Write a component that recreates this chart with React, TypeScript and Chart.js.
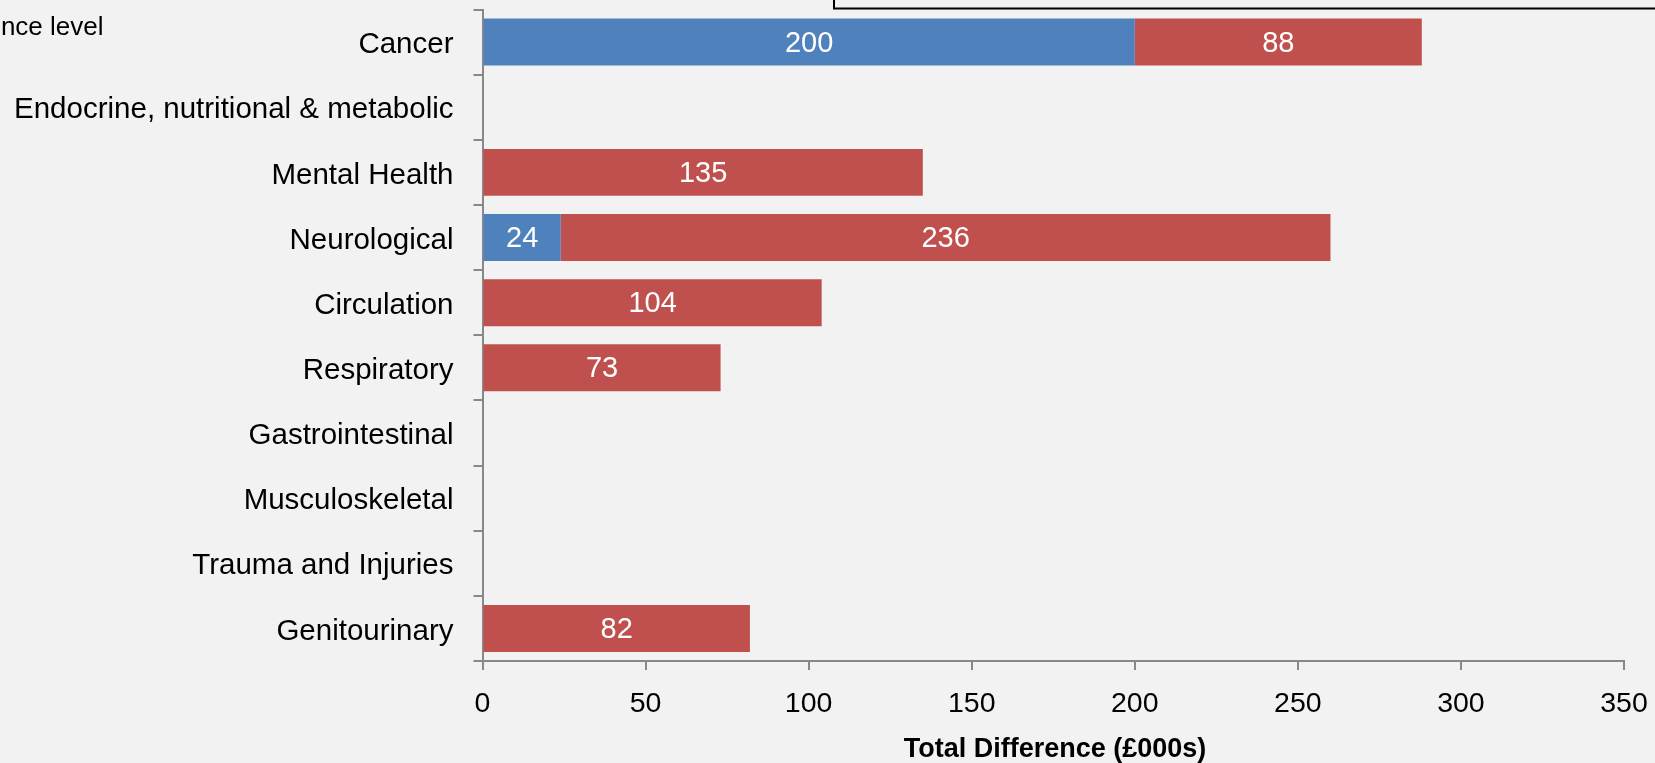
import React, { useEffect, useRef } from "react";
import { Chart, registerables } from "chart.js";

Chart.register(...registerables);

const categories = [
  "Cancer",
  "Endocrine, nutritional & metabolic",
  "Mental Health",
  "Neurological",
  "Circulation",
  "Respiratory",
  "Gastrointestinal",
  "Musculoskeletal",
  "Trauma and Injuries",
  "Genitourinary",
];
const blueValues: (number | null)[] = [200, null, null, 24, null, null, null, null, null, null];
const redValues: (number | null)[] = [88, null, 135, 236, 104, 73, null, null, null, 82];
const xTicks = [0, 50, 100, 150, 200, 250, 300, 350];
const axisTitle = "Total Difference (£000s)";
const cornerText = "ence level";

const FONT = "'Liberation Sans', Arial, sans-serif";
const AXIS_GRAY = "#888888";

const labelPlugin = {
  id: "barLabels",
  afterDatasetsDraw(chart: any) {
    const ctx = chart.ctx;
    ctx.save();
    ctx.font = `29px ${FONT}`;
    ctx.fillStyle = "#ffffff";
    ctx.textAlign = "center";
    ctx.textBaseline = "middle";
    chart.data.datasets.forEach((ds: any, di: number) => {
      const meta = chart.getDatasetMeta(di);
      meta.data.forEach((bar: any, i: number) => {
        const v = ds.data[i];
        if (v == null || v <= 0) return;
        const cx = (bar.x + bar.base) / 2;
        ctx.fillText(String(v), cx, bar.y + 1.5);
      });
    });
    ctx.restore();
  },
  afterDraw(chart: any) {
    const ctx = chart.ctx;
    ctx.save();
    // axis title
    ctx.font = `bold 27px ${FONT}`;
    ctx.fillStyle = "#000000";
    ctx.textAlign = "center";
    ctx.textBaseline = "alphabetic";
    ctx.fillText(axisTitle, 1055, 756.5);
    // cut-off corner text
    ctx.font = `26px ${FONT}`;
    ctx.textAlign = "right";
    ctx.fillText(cornerText, 103.5, 34.5);
    // legend box (mostly off-canvas)
    ctx.strokeStyle = "#000000";
    ctx.lineWidth = 2;
    ctx.strokeRect(834, -30, 1000, 38.5);
    ctx.restore();
  },
};

export default function App() {
  const ref = useRef<HTMLCanvasElement | null>(null);

  useEffect(() => {
    document.body.style.margin = "0";
    document.body.style.background = "#F2F2F2";
    const canvas = ref.current;
    if (!canvas) return;
    const chart = new Chart(canvas, {
      type: "bar",
      data: {
        labels: categories,
        datasets: [
          {
            label: "Series 1",
            data: blueValues,
            backgroundColor: "#4F81BD",
            borderWidth: 0,
            barPercentage: 0.72,
            categoryPercentage: 1,
          },
          {
            label: "Series 2",
            data: redValues,
            backgroundColor: "#C0504D",
            borderWidth: 0,
            barPercentage: 0.72,
            categoryPercentage: 1,
          },
        ],
      },
      options: {
        indexAxis: "y",
        responsive: false,
        animation: false,
        maintainAspectRatio: false,
        layout: { padding: { top: 9.5, right: 31, left: 0, bottom: 0 } },
        plugins: {
          legend: { display: false },
          tooltip: { enabled: false },
          title: { display: false },
        },
        scales: {
          x: {
            type: "linear",
            stacked: true,
            min: 0,
            max: 350,
            afterBuildTicks: (scale: any) => {
              scale.ticks = xTicks.map((v) => ({ value: v }));
            },
            afterFit: (scale: any) => {
              scale.height = 102;
              scale.paddingLeft = 0;
              scale.paddingRight = 0;
            },
            grid: {
              drawOnChartArea: false,
              drawTicks: true,
              tickLength: 9,
              color: AXIS_GRAY,
              lineWidth: 2,
            },
            border: { display: true, color: AXIS_GRAY, width: 2 },
            ticks: {
              color: "#000000",
              font: { family: FONT, size: 28.5 },
              padding: 17,
              maxRotation: 0,
            },
          },
          y: {
            type: "category",
            stacked: true,
            afterFit: (scale: any) => {
              scale.width = 482.5;
              scale.paddingTop = 0;
              scale.paddingBottom = 0;
            },
            grid: {
              drawOnChartArea: false,
              drawTicks: true,
              tickLength: 9,
              color: AXIS_GRAY,
              lineWidth: 2,
              offset: true,
            },
            border: { display: true, color: AXIS_GRAY, width: 2 },
            ticks: {
              color: "#000000",
              font: { family: FONT, size: 29.5 },
              padding: 20,
              labelOffset: 3,
              autoSkip: false,
            },
          },
        },
      },
      plugins: [labelPlugin],
    });
    return () => chart.destroy();
  }, []);

  return (
    <div
      style={{
        position: "fixed",
        left: 0,
        top: 0,
        width: 1655,
        height: 763,
        background: "#F2F2F2",
      }}
    >
      <canvas ref={ref} width={1655} height={763} style={{ display: "block" }} />
    </div>
  );
}
